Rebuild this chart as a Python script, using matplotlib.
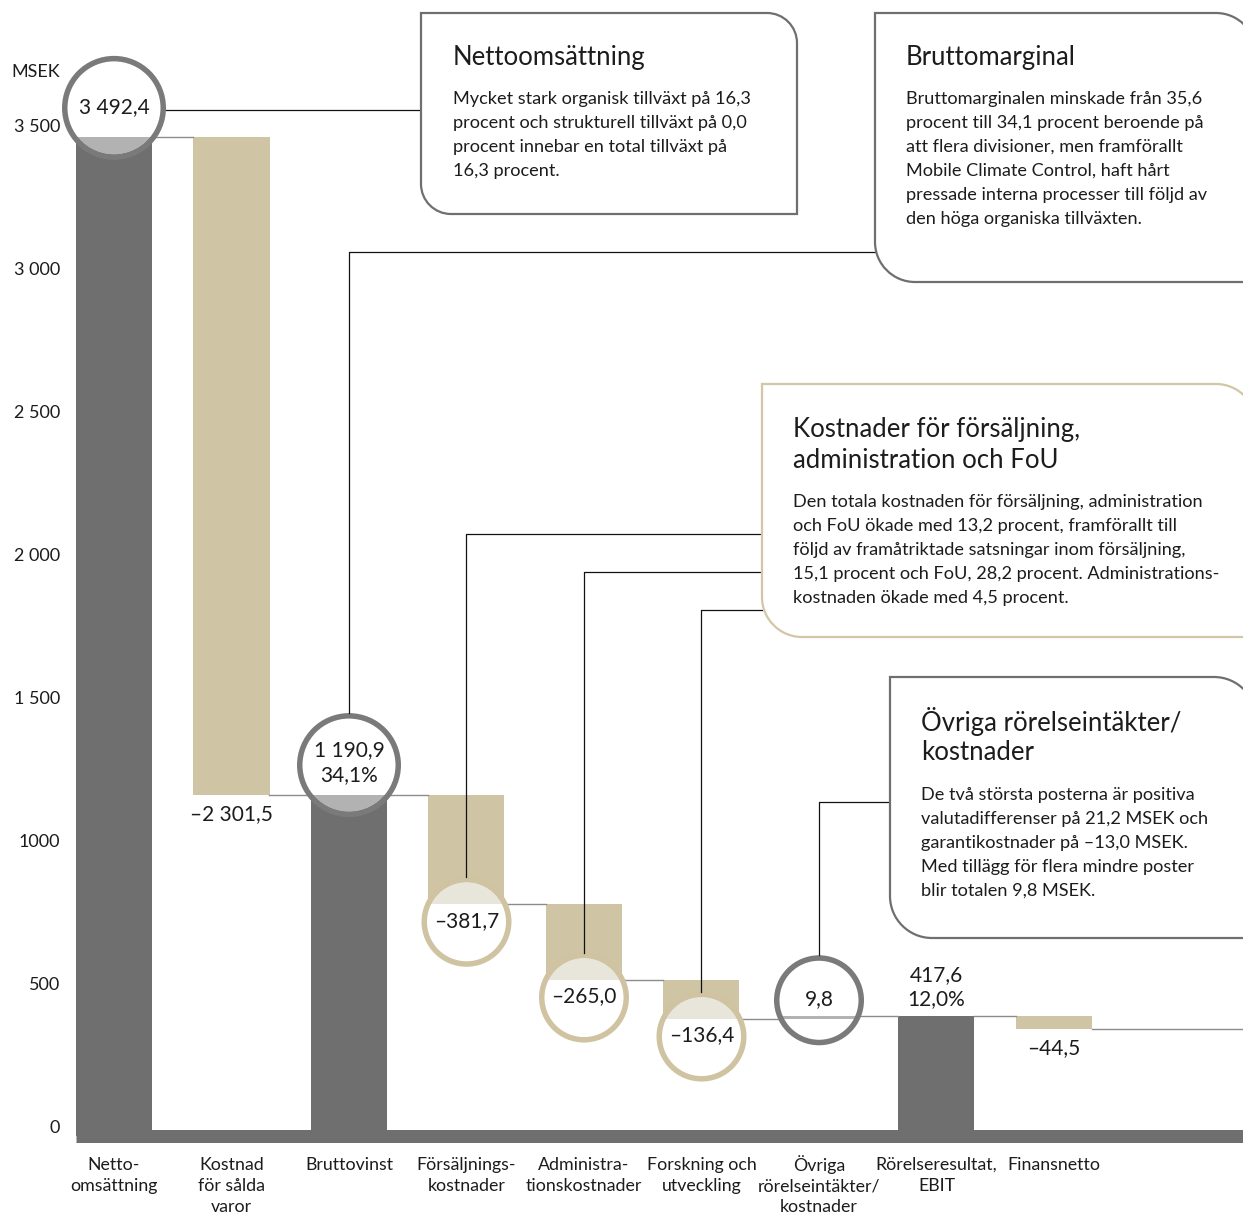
import matplotlib
matplotlib.use("Agg")
import matplotlib.pyplot as plt
from matplotlib.patches import Circle, Rectangle, PathPatch
from matplotlib.path import Path
from matplotlib.lines import Line2D
from matplotlib.transforms import (Affine2D, ScaledTranslation, IdentityTransform,
                                   blended_transform_factory, offset_copy)

# ---------------------------------------------------------------- data
categories = ["Netto-\nomsättning", "Kostnad\nför sålda\nvaror", "Bruttovinst",
              "Försäljnings-\nkostnader", "Administra-\ntionskostnader",
              "Forskning och\nutveckling", "Övriga\nrörelseintäkter/\nkostnader",
              "Rörelseresultat,\nEBIT", "Finansnetto"]
values = [3492.4, -2301.5, 1190.9, -381.7, -265.0, -136.4, 9.8, 417.6, -44.5]
is_total = [True, False, True, False, False, False, False, True, False]
margin_labels = [None, None, "34,1%", None, None, None, None, "12,0%", None]

y_ticks = [0, 500, 1000, 1500, 2000, 2500, 3000, 3500]
y_tick_labels = ["0", "500", "1000", "1 500", "2 000", "2 500", "3 000", "3 500"]
unit_label = "MSEK"

box_titles = [
    ["Nettoomsättning"],
    ["Bruttomarginal"],
    ["Kostnader för försäljning,", "administration och FoU"],
    ["Övriga rörelseintäkter/", "kostnader"],
]
box_bodies = [
    ["Mycket stark organisk tillväxt på 16,3",
     "procent och strukturell tillväxt på 0,0",
     "procent innebar en total tillväxt på",
     "16,3 procent."],
    ["Bruttomarginalen minskade från 35,6",
     "procent till 34,1 procent beroende på",
     "att flera divisioner, men framförallt",
     "Mobile Climate Control, haft hårt",
     "pressade interna processer till följd av",
     "den höga organiska tillväxten."],
    ["Den totala kostnaden för försäljning, administration",
     "och FoU ökade med 13,2 procent, framförallt till",
     "följd av framåtriktade satsningar inom försäljning,",
     "15,1 procent och FoU, 28,2 procent. Administrations-",
     "kostnaden ökade med 4,5 procent."],
    ["De två största posterna är positiva",
     "valutadifferenser på 21,2 MSEK och",
     "garantikostnader på –13,0 MSEK.",
     "Med tillägg för flera mindre poster",
     "blir totalen 9,8 MSEK."],
]

# ---------------------------------------------------------------- style
FONT = "Lato"
plt.rcParams["font.family"] = [FONT, "DejaVu Sans"]
TXT = "#1c1c1c"
GRAY = "#6f6f6f"
GRAY_RING = "#7a7a7a"
GRAY_CAP = "#b3b2b3"
BEIGE = "#cfc4a3"
BEIGE_RING = "#cfc3a2"
BEIGE_CAP = "#e8e5da"
CONNECTOR = "#8c8c8c"

VAL_FS = 15
TICK_FS = 13
CAT_FS = 12.8
TITLE_FS = 18.5
BODY_FS = 13.1

W, H = 1243, 1217
ZERO_PX, PX_PER_UNIT = 1135.7, 0.286
X0_PX, STEP_PX = 114.0, 117.5
BAR_W = 76 / STEP_PX

fig = plt.figure(figsize=(W / 100, H / 100), dpi=100)
fig.patch.set_facecolor("white")
ax = fig.add_axes([0, 0, 1, 1])
ax.set_xlim(-X0_PX / STEP_PX, (W - X0_PX) / STEP_PX)
ax.set_ylim(-(H - ZERO_PX) / PX_PER_UNIT, ZERO_PX / PX_PER_UNIT)
ax.axis("off")

# pixel space with the origin in the upper left corner
P = Affine2D().scale(1, -1).translate(0, H)


def to_px(x, y):
    dx, dy = ax.transData.transform((x, y))
    return dx, H - dy


def fmt(v):
    s = f"{abs(v):,.1f}".replace(",", " ").replace(".", ",")
    return ("–" if v < 0 else "") + s


# ---------------------------------------------------------------- waterfall
bottoms, tops, levels = [], [], []
level = 0.0
for v, total in zip(values, is_total):
    if total:
        lo, hi = 0.0, v
        level = v
    else:
        start = level
        level = start + v
        lo, hi = min(start, level), max(start, level)
    bottoms.append(lo)
    tops.append(hi)
    levels.append(level)

xs = list(range(len(values)))
colors = [GRAY if (t or v > 0) else BEIGE for v, t in zip(values, is_total)]
ax.bar(xs, [t - b for t, b in zip(tops, bottoms)], bottom=bottoms, width=BAR_W,
       color=colors, zorder=2, linewidth=0)

# thick base line
x_right = ax.get_xlim()[1]
ax.plot([xs[0] - BAR_W / 2, x_right], [0, 0], color=GRAY, lw=13 * 0.72,
        solid_capstyle="butt", zorder=2.2)

# connectors between bars
for i in range(len(values) - 1):
    ax.plot([i + BAR_W / 2, i + 1 - BAR_W / 2], [levels[i], levels[i]],
            color=CONNECTOR, lw=1.0, zorder=2.5)
ax.plot([xs[-1] + BAR_W / 2, x_right], [levels[-1], levels[-1]],
        color=CONNECTOR, lw=1.0, zorder=2.5)

# ---------------------------------------------------------------- circles
# index: (anchor, offset in px (up positive), outer radius px, ring, cap)
circle_specs = {
    0: ("top", 29, 52, GRAY_RING, GRAY_CAP),
    2: ("top", 30, 52, GRAY_RING, GRAY_CAP),
    3: ("bottom", -17.5, 45, BEIGE_RING, BEIGE_CAP),
    4: ("bottom", -17.5, 45, BEIGE_RING, BEIGE_CAP),
    5: ("bottom", -17.5, 45, BEIGE_RING, BEIGE_CAP),
    6: ("top", 16, 45, GRAY_RING, GRAY_CAP),
}
RING_W = 5.5
circle_px = {}
for i, (anchor, off, r_out, ring, cap) in circle_specs.items():
    yv = tops[i] if anchor == "top" else bottoms[i]
    tr = ScaledTranslation(i, yv, ax.transData)
    r = r_out - RING_W / 2
    disk = Circle((0, off), r_out - RING_W, transform=tr, facecolor="white",
                  edgecolor="none", zorder=3)
    ax.add_artist(disk)
    capc = Circle((0, off), r_out - RING_W, transform=tr, facecolor=cap,
                  edgecolor="none", zorder=3.5)
    ax.add_artist(capc)
    clip = Rectangle((i - BAR_W / 2, bottoms[i]), BAR_W, tops[i] - bottoms[i],
                     transform=ax.transData)
    capc.set_clip_path(clip)
    ringc = Circle((0, off), r, transform=tr, facecolor="none", edgecolor=ring,
                   lw=RING_W * 0.72, zorder=4)
    ax.add_artist(ringc)
    px, py = to_px(i, yv)
    circle_px[i] = (px, py - off, r_out)

# ---------------------------------------------------------------- value labels
for i, v in enumerate(values):
    label = fmt(v)
    if i in circle_specs:
        anchor, off, _, _, _ = circle_specs[i]
        yv = tops[i] if anchor == "top" else bottoms[i]
        if margin_labels[i]:
            for k, s in enumerate([label, margin_labels[i]]):
                ax.text(i, yv, s, ha="center", va="center", fontsize=VAL_FS, color=TXT,
                        zorder=6, transform=offset_copy(ax.transData, fig=fig, x=0,
                                                        y=off + 15 - 25 * k, units="dots"))
        else:
            ax.text(i, yv, label, ha="center", va="center", fontsize=VAL_FS, color=TXT,
                    zorder=6, transform=offset_copy(ax.transData, fig=fig, x=0,
                                                    y=off + 1, units="dots"))
    elif margin_labels[i]:
        for k, s in enumerate([label, margin_labels[i]]):
            ax.text(i, tops[i], s, ha="center", va="center", fontsize=VAL_FS, color=TXT,
                    zorder=6, transform=offset_copy(ax.transData, fig=fig, x=0,
                                                    y=41 - 24 * k, units="dots"))
    else:
        ax.text(i, bottoms[i], label, ha="center", va="center", fontsize=VAL_FS,
                color=TXT, zorder=6,
                transform=offset_copy(ax.transData, fig=fig, x=0, y=-19, units="dots"))

# ---------------------------------------------------------------- axis labels
tick_tr = blended_transform_factory(IdentityTransform(), ax.transData) + \
    Affine2D().translate(0, 8)
for v, s in zip(y_ticks, y_tick_labels):
    fig.text(60, v, s, ha="right", va="center", fontsize=TICK_FS, color=TXT,
             transform=tick_tr)
fig.text(60, 72, unit_label, ha="right", va="center", fontsize=TICK_FS, color=TXT,
         transform=P)

for i, cat in enumerate(categories):
    px, _ = to_px(i, 0)
    for k, line in enumerate(cat.split("\n")):
        fig.text(px, 1165 + 21 * k, line, ha="center", va="center", fontsize=CAT_FS,
                 color=TXT, transform=P)

# ---------------------------------------------------------------- text boxes
def box_path(x0, y0, x1, y1, r):
    k = 0.5523 * r
    verts = [(x0, y0), (x1 - r, y0),
             (x1 - r + k, y0), (x1, y0 + r - k), (x1, y0 + r),
             (x1, y1), (x0 + r, y1),
             (x0 + r - k, y1), (x0, y1 - r + k), (x0, y1 - r),
             (x0, y0)]
    codes = [Path.MOVETO, Path.LINETO,
             Path.CURVE4, Path.CURVE4, Path.CURVE4,
             Path.LINETO, Path.LINETO,
             Path.CURVE4, Path.CURVE4, Path.CURVE4,
             Path.CLOSEPOLY]
    return Path(verts, codes)


boxes = [
    ((421, 13, 797, 214), 30, GRAY, 453, 58, 99),
    ((875, 13, 1256, 282), 40, GRAY, 906, 58, 99),
    ((762, 384, 1256, 637), 40, "#d2c6a6", 793, 429, 502),
    ((890, 677, 1256, 938), 42, GRAY, 921, 721, 795),
]
for (rect, r, col, tx, ty, by), titles, body in zip(boxes, box_titles, box_bodies):
    fig.add_artist(PathPatch(box_path(*rect, r), transform=P, facecolor="white",
                             edgecolor=col, lw=1.6, zorder=2))
    for k, line in enumerate(titles):
        fig.text(tx, ty + 32 * k, line, ha="left", va="center", fontsize=TITLE_FS,
                 color=TXT, transform=P, zorder=3)
    for k, line in enumerate(body):
        fig.text(tx, by + 24 * k, line, ha="left", va="center", fontsize=BODY_FS,
                 color=TXT, transform=P, zorder=3)

# ---------------------------------------------------------------- leader lines
def leader(pts):
    xs_, ys_ = zip(*pts)
    fig.add_artist(Line2D(xs_, ys_, transform=P, color="#111111", lw=0.9, zorder=1.5))


cx, cy, rr = circle_px[0]
leader([(cx + rr, cy + 2), (421, cy + 2)])
cx, cy, rr = circle_px[2]
leader([(cx, cy - rr), (cx, 252), (875, 252)])
for i, yk in zip([3, 4, 5], [534, 572, 610]):
    cx, cy, rr = circle_px[i]
    leader([(cx, cy - rr), (cx, yk), (762, yk)])
cx, cy, rr = circle_px[6]
leader([(cx, cy - rr), (cx, 802), (890, 802)])

fig.savefig("out.png", dpi=100, facecolor="white")
